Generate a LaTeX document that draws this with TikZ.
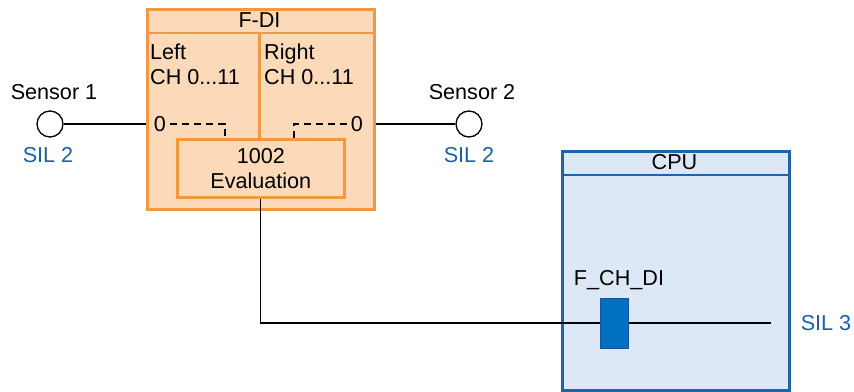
\documentclass[tikz,border=0pt]{standalone}
\usepackage{fontspec}
\setmainfont{Liberation Sans}
\usetikzlibrary{positioning}
\definecolor{orangef}{RGB}{242,152,62}
\definecolor{orangec}{RGB}{252,217,184}
\definecolor{bleuf}{RGB}{30,100,170}
\definecolor{bleuc}{RGB}{221,232,246}
\definecolor{bleub}{RGB}{0,112,192}
\definecolor{bleuk}{RGB}{20,85,155}
\definecolor{bleut}{RGB}{25,95,170}

\begin{document}
\begin{tikzpicture}[x=1pt, y=-1pt,
  boite/.style 2 args={rectangle, draw=#1, fill=#2, line width=2.6pt, anchor=north west, inner sep=0pt},
  txt/.style={font=\fontsize{21.6}{25}\selectfont, inner sep=0pt},
  sil/.style={txt, text=bleut},
  fil/.style={line width=1.3pt},
  capteur/.style={circle, draw, line width=1.3pt, fill=white, minimum size=26pt, inner sep=0pt}]

\useasboundingbox (0,0) rectangle (854,391);

% module F-DI
\node[boite={orangef}{orangec}, minimum width=227pt, minimum height=200pt] (fdi) at (146,8) {};
\draw[orangef, line width=2.6pt] ([yshift=-25pt]fdi.north west) -- ([yshift=-25pt]fdi.north east);
\node[txt] (titre) at (259.5,20.5) {F-DI};
\draw[orangef, line width=2.6pt] (259.5,33) -- (259.5,138);
\node[txt, anchor=west, align=left] (gauche) at (150,64.5) {Left\\CH 0...11};
\node[txt, anchor=west, align=left] (droite) at (264,64.5) {Right\\CH 0...11};
\node[boite={orangef}{orangec}, minimum width=167pt, minimum height=58pt, txt, align=center] (eval) at (176,138) {1002\\Evaluation};
\node[txt] (zerog) at (160,124) {0};
\node[txt] (zerod) at (357,124) {0};
\draw[fil, dash pattern=on 7pt off 5pt] (zerog.east) ++(4,0) -- (225,124) -- (225,138);
\draw[fil, dash pattern=on 7pt off 5pt] (zerod.west) ++(-4,0) -- (294,124) -- (294,138);

% capteurs
\node[capteur] (c1) at (50,124) {};
\node[txt] (nom1) at (54,92) {Sensor 1};
\node[sil] (sil1) at (48,155) {SIL 2};
\draw[fil] (c1.east) -- (c1 -| fdi.west);
\node[capteur] (c2) at (469,124) {};
\node[txt] (nom2) at (472,92) {Sensor 2};
\node[sil] (sil2) at (469,155) {SIL 2};
\draw[fil] (c2 -| fdi.east) -- (c2.west);

% CPU
\node[boite={bleuf}{bleuc}, minimum width=227pt, minimum height=239pt] (cpu) at (561,150) {};
\draw[bleuf, line width=2.6pt] ([yshift=-25pt]cpu.north west) -- ([yshift=-25pt]cpu.north east);
\node[txt] (titrecpu) at (674.5,162.5) {CPU};
\coordinate (fin) at (771,323);
\draw[fil] (eval.south) |- (fin);
\node[txt] (fchdi) at (619,280) {F\_CH\_DI};
\node[rectangle, draw=bleuk, fill=bleub, line width=1.5pt, anchor=north west, minimum width=28pt, minimum height=50pt, inner sep=0pt] (bloc) at (599.5,297.5) {};
\node[sil] (sil3) at (826,323) {SIL 3};

\end{tikzpicture}
\end{document}
